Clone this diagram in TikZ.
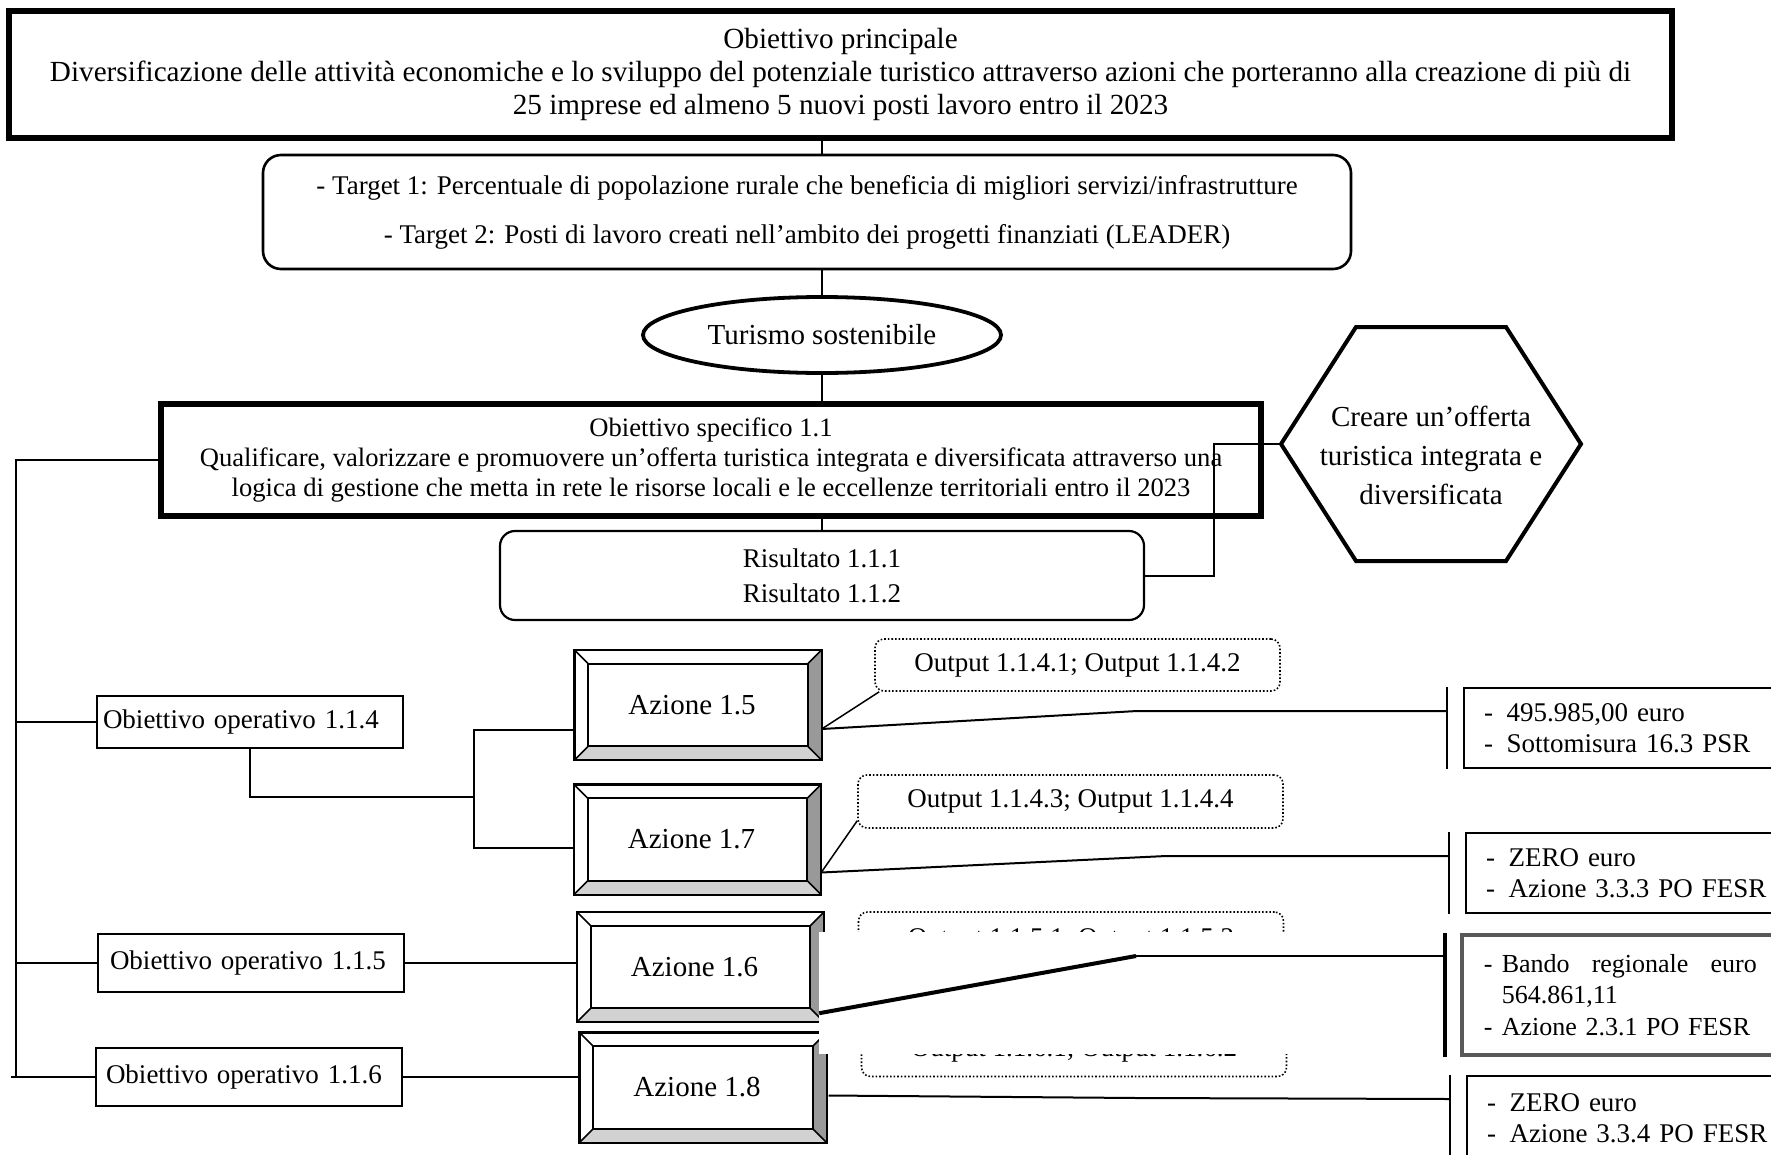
\documentclass[tikz,border=0pt]{standalone}
\usepackage{fontspec}
\setmainfont{Liberation Serif}
\usetikzlibrary{calc,shapes.geometric}
\tikzset{
  link/.style={line width=2pt},
  bigbox/.style={draw,line width=5.5pt,inner sep=0pt,align=center},
  roundbox/.style={draw,line width=2.6pt,rounded corners=18pt,inner sep=0pt,align=center},
  opbox/.style={draw,line width=1.3pt,text width=294pt,inner xsep=6pt,inner ysep=0pt,align=left},
  azbox/.style={minimum width=247pt,minimum height=110pt,inner sep=0pt,font=\fontsize{29}{33}\selectfont},
  outbox/.style={draw,dotted,line width=1.6pt,rounded corners=9pt,minimum width=425pt,minimum height=53pt,inner sep=0pt},
  fundbox/.style={draw,line width=2pt,anchor=north west,minimum width=340pt,text width=300pt,inner xsep=20pt,inner ysep=0pt,align=left,font=\fontsize{27}{31}\selectfont},
  bracket/.style={line width=2.4pt},
}
\begin{document}
\begin{tikzpicture}[x=1pt,y=-1pt,font=\fontsize{27}{33}\selectfont]
    \clip (0,0) rectangle (1771,1154);
    \node[bigbox,minimum width=1663pt,minimum height=127pt,font=\fontsize{29.2}{33}\selectfont] (main) at (840.5,74.5) {Obiettivo principale\\Diversificazione delle attività economiche e lo sviluppo del potenziale turistico attraverso azioni che porteranno alla creazione di più di\\25 imprese ed almeno 5 nuovi posti lavoro entro il 2023};
    \node[roundbox,minimum width=1088pt,minimum height=114pt] (target) at (807,212) {- Target 1: Percentuale di popolazione rurale che beneficia di migliori servizi/infrastrutture\\[16pt]- Target 2: Posti di lavoro creati nell’ambito dei progetti finanziati (LEADER)};
    \node[draw,ellipse,line width=3.8pt,minimum width=358pt,minimum height=76pt,inner sep=0pt,font=\fontsize{29}{33}\selectfont] (tur) at (822,335) {Turismo sostenibile};
    \node[bigbox,minimum width=1100pt,minimum height=112pt,font=\fontsize{26.6}{30}\selectfont] (spec) at (711,460) {Obiettivo specifico 1.1\\Qualificare, valorizzare e promuovere un’offerta turistica integrata e diversificata attraverso una\\logica di gestione che metta in rete le risorse locali e le eccellenze territoriali entro il 2023};
    \coordinate (hexc) at (1431,444);
    \coordinate (hexL) at ($(hexc)+(-150,0)$);
    \draw[line width=4pt] (hexL) -- ($(hexc)+(-75,-117)$) -- ($(hexc)+(75,-117)$) -- ($(hexc)+(150,0)$) -- ($(hexc)+(75,117)$) -- ($(hexc)+(-75,117)$) -- cycle;
    \node[align=center,font=\fontsize{29}{39}\selectfont] (hex) at (1431,455) {Creare un’offerta\\turistica integrata e\\diversificata};
    \node[roundbox,line width=2.2pt,rounded corners=15pt,minimum width=644pt,minimum height=89pt] (ris) at (822,575.5) {Risultato 1.1.1\\[2pt]Risultato 1.1.2};
    \draw[link] (main.south -| tur) -- (target.north -| tur);
    \draw[link] (target.south -| tur) -- (tur.north);
    \draw[link] (tur.south) -- (spec.north -| tur);
    \draw[link] (spec.south -| tur) -- (ris.north -| tur);
    \draw[link] (hexL) -- ++(-67,0) |- (ris.east);

    \node[opbox,minimum height=52pt] (op114) at (250,722) {Obiettivo operativo 1.1.4};
    \node[opbox,minimum height=58pt] (op115) at (251,963) {\hspace{6pt}Obiettivo operativo 1.1.5};
    \node[opbox,minimum height=58pt] (op116) at (249,1077) {\hspace{4pt}Obiettivo operativo 1.1.6};
    \coordinate (trunk) at (16,0);
    \draw[link] (spec.west) -| (trunk |- op116.west) -- (op116.west);
    \draw[link] (op116.west) -- ++(-84,0);
    \foreach \o in {op114,op115} \draw[link] (\o.west) -- (\o.west -| trunk);

    \foreach \n/\px/\py/\t in {a15/698/705/1.5,a17/697.5/839.5/1.7,a16/700.5/967/1.6,a18/703/1087.5/1.8} {
        \node[azbox] (\n) at (\px,\py) {\hspace{-12pt}Azione \t};
        \fill[gray!35] (\n.south west) -- ($(\n.south west)+(14,-14)$) -- ($(\n.south east)+(-14,-14)$) -- (\n.south east) -- cycle;
        \fill[gray!80] (\n.south east) -- ($(\n.south east)+(-14,-14)$) -- ($(\n.north east)+(-14,14)$) -- (\n.north east) -- cycle;
        \draw[line width=2.4pt] (\n.south west) rectangle (\n.north east);
        \draw[line width=2pt] ($(\n.south west)+(14,-14)$) rectangle ($(\n.north east)+(-14,14)$);
        \draw[line width=1.5pt] (\n.south west) -- ++(14,-14) (\n.south east) -- ++(-14,-14)
            (\n.north east) -- ++(-14,14) (\n.north west) -- ++(14,14);
      }
    \coordinate (fork) at (474,797);
    \draw[link] (op114.south) |- (fork);
    \draw[link] ($(a15.west)+(0,25)$) -| (fork) |- ($(a17.west)+(0,8)$);
    \draw[link] (op115.east) -- (op115.east -| a16.west);
    \draw[link] (op116.east) -- (op116.east -| a18.west);

    \node[outbox,minimum width=405pt,minimum height=52pt] (out15) at (1077.5,665) {Output 1.1.4.1; Output 1.1.4.2};
    \node[outbox] (out17) at (1070.5,801.5) {Output 1.1.4.3; Output 1.1.4.4};
    \node[outbox,minimum height=56pt] (out16) at (1071,940) {Output 1.1.5.1; Output 1.1.5.2};
    \node[outbox] (out18) at (1074,1050) {Output 1.1.6.1; Output 1.1.6.2};
    \draw[line width=1.5pt] ($(a15.east)+(0,24)$) -- ($(out15.south west)+(5,0)$);
    \draw[line width=1.5pt] ($(a17.east)+(0,33)$) -- ($(out17.south west)+(0,-8)$);

    \node[fundbox,minimum height=80pt] (f1) at (1463,687) {-\enskip 495.985,00 euro\\-\enskip Sottomisura 16.3 PSR};
    \node[fundbox,minimum height=80pt] (f2) at (1465,832) {-\enskip ZERO euro\\-\enskip Azione 3.3.3 PO FESR};
    \node[fundbox,minimum height=85pt] (f4) at (1466,1075) {-\enskip ZERO euro\\-\enskip Azione 3.3.4 PO FESR};
    \node[fundbox,draw=black!65,line width=3.5pt,minimum width=317pt,minimum height=120pt,text width=273pt,inner xsep=22pt,font=\fontsize{26}{31.5}\selectfont] (f3) at (1460,933) {\makebox[18pt][l]{-}Bando\hfill regionale\hfill euro\\\hspace*{18pt}564.861,11\\\makebox[18pt][l]{-}Azione 2.3.1 PO FESR};
    \foreach \f in {f1,f2,f4} \draw[bracket] ($(\f.north west)+(-16,0)$) -- ($(\f.south west)+(-16,0)$);
    \draw[line width=4pt] ($(f3.north west)+(-15,0)$) -- ($(f3.south west)+(-15,0)$);
    \draw[link] ($(a15.east)+(0,24)$) -- (1137,711) -- ($(f1.north west)+(-16,24)$);
    \draw[link] ($(a17.east)+(0,33)$) -- (1166,856) -- ($(f2.north west)+(-16,24)$);
    \draw[link] ($(a18.east)+(2,8)$) -- (1137,1098) -- ($(f4.north west)+(-16,24)$);

    % pasted patch over the Azione 1.6 / 1.8 outputs
    \fill[white] (819,932) rectangle (1300,1054);
    \draw[line width=4pt] ($(a16.south east)+(-5,-9)$) -- (1136,956);
    \draw[link] (1136,956) -- ($(f3.north west)+(-15,23)$);
  \end{tikzpicture}
\end{document}
